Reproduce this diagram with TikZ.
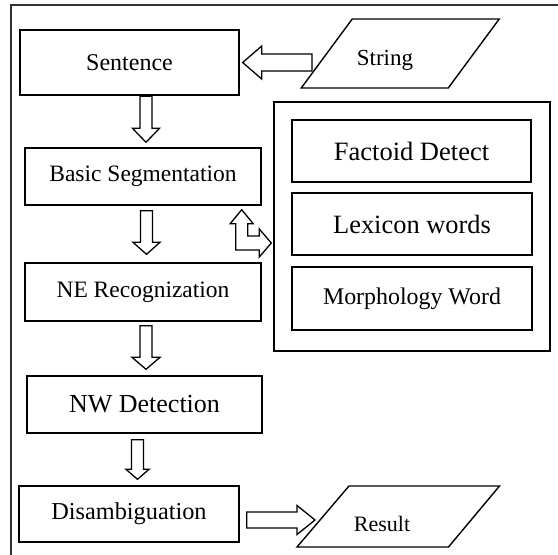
\documentclass[tikz,border=0pt]{standalone}
\usepackage{fontspec}
\setmainfont{Liberation Serif}
\usetikzlibrary{calc}

\tikzset{
  box/.style={draw, line width=1.4pt, inner sep=0pt, minimum width=#1},
  hollow/.style={draw, line width=1.3pt, line join=miter, fill=white},
  frameline/.style={draw=black!80, line width=2pt},
  fs/.style={font=\fontsize{#1}{#1}\selectfont},
}

% hollow arrow pointing down, from the bottom of #1 to the top of #2
% #3 x of the axis, #4 gap below source, #5 gap above target,
% #6 head length, #7 half width of the head
\newcommand\hollowdown[7]{%
  \draw[hollow] let \p1=(#1.south), \p2=(#2.north) in
    ({#3pt-6pt},{\y1-#4pt}) -- ({#3pt+6pt},{\y1-#4pt})
    -- ({#3pt+6pt},{\y2+#5pt+#6pt}) -- ({#3pt+#7pt},{\y2+#5pt+#6pt})
    -- ({#3pt},{\y2+#5pt})
    -- ({#3pt-#7pt},{\y2+#5pt+#6pt}) -- ({#3pt-6pt},{\y2+#5pt+#6pt})
    -- cycle;}

% hollow horizontal arrow from tail #1 to tip #2
% #3 half shaft, #4 half head, #5 signed head length
\newcommand\hollowside[5]{%
  \draw[hollow] let \p1=(#1), \p2=(#2) in
    (\x1,{\y2+#3pt}) -- ({\x2+(#5pt)},{\y2+#3pt})
    -- ({\x2+(#5pt)},{\y2+#4pt}) -- (\x2,\y2)
    -- ({\x2+(#5pt)},{\y2-#4pt}) -- ({\x2+(#5pt)},{\y2-#3pt})
    -- (\x1,{\y2-#3pt}) -- cycle;}

\begin{document}
\begin{tikzpicture}[x=1pt,y=-1pt]
\useasboundingbox (0,0) rectangle (558,555);

% page frame (top and left edges)
\draw[frameline] (10,5) -- (558,5);
\draw[frameline] (11,5) -- (11,555);

% main pipeline
\node[box=219pt, minimum height=65pt, fs=24] (sent) at (129.5,62.5) {Sentence};
\node[box=236pt, minimum height=57pt, fs=23.5] (seg) at (143,176.5) {Basic Segmentation};
\node[box=236pt, minimum height=58pt, fs=23.5] (ne) at (143,292) {NE Recognization};
\node[box=235pt, minimum height=57pt, fs=26] (nw) at (144.5,404.5) {NW Detection};
\node[box=220pt, minimum height=56pt, fs=24.3] (dis) at (129,514) {Disambiguation};

% dictionary group
\node[box=276pt, minimum height=249pt] (grp) at (412,226.5) {};
\node[box=239pt, minimum height=62pt, fs=26.5] (fact) at (411.5,151) {Factoid Detect};
\node[box=240pt, minimum height=62pt, fs=26.4] (lex) at (412,224) {Lexicon words};
\node[box=240pt, minimum height=63pt, fs=23.9] (morph) at (412,298.5) {\raisebox{5pt}{Morphology Word}};

% input and output parallelograms
\draw[line width=1.4pt] (301.25,88) -- (448.25,88) -- (499.25,19) -- (352.25,19) -- cycle;
\node[fs=23, anchor=base] (str) at (385,65) {String};
\coordinate (strin) at (312,62.5);

\draw[line width=1.4pt] (297,547) -- (448.5,547) -- (499.5,486) -- (349,486) -- cycle;
\node[fs=22, anchor=base] (res) at (382,531) {Result};
\coordinate (resin) at (315,520);

% connectors
\hollowside{strin}{$(sent.east)+(3pt,0)$}{8.5}{16.5}{19}
\hollowdown{sent}{seg}{146}{0.5}{5}{14}{13.5}
\hollowdown{seg}{ne}{146.5}{5}{8}{12}{13.5}
\hollowdown{ne}{nw}{146}{4}{6}{12}{14}
\hollowdown{nw}{dis}{137.5}{6}{6}{10}{11.5}
\hollowside{$(dis.east)+(7pt,-6pt)$}{resin}{8}{14.5}{-18}

% two-headed elbow between segmentation and the dictionary group
\coordinate (eu) at ([xshift=-20pt,yshift=-4pt]seg.south east);
\coordinate (er) at ([xshift=-2pt,yshift=-16.5pt]grp.west);
\draw[hollow] let \p1=(eu), \p2=(er) in
  (\x1,\y1) -- ({\x1-11.5pt},{\y1-14pt}) -- ({\x1-6pt},{\y1-14pt})
  -- ({\x1-6pt},{\y2-7pt}) -- ({\x2-12pt},{\y2-7pt})
  -- ({\x2-12pt},{\y2-14pt}) -- (\x2,\y2)
  -- ({\x2-12pt},{\y2+14pt}) -- ({\x2-12pt},{\y2+7pt})
  -- ({\x1+6pt},{\y2+7pt}) -- ({\x1+6pt},{\y1-14pt})
  -- ({\x1+11.5pt},{\y1-14pt}) -- cycle;
\end{tikzpicture}
\end{document}
